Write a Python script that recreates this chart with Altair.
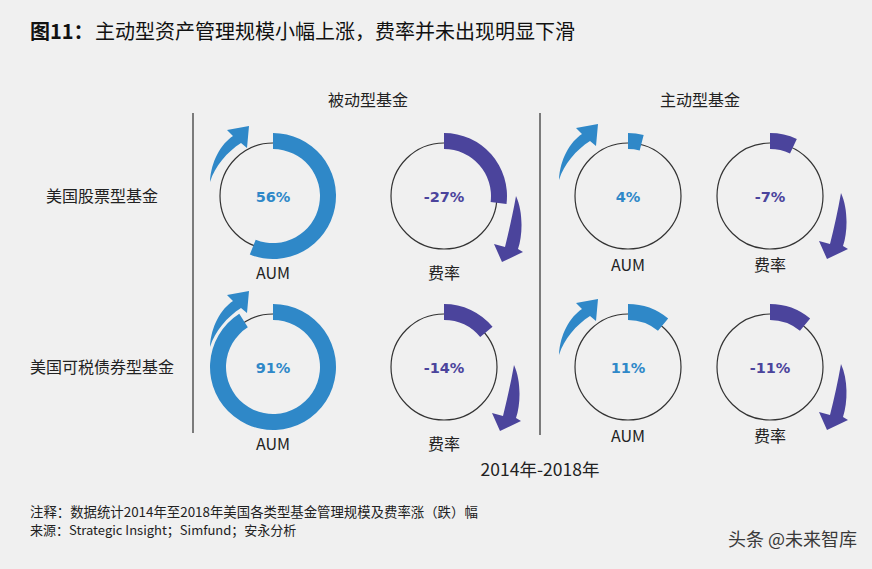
import math
import altair as alt
import pandas as pd

# ---------------- data ----------------
fund_types = ["美国股票型基金", "美国可税债券型基金"]
fund_groups = ["被动型基金", "主动型基金"]
metrics = ["AUM", "费率"]
passive_aum_change = [56, 91]
passive_fee_change = [-27, -14]
active_aum_change = [4, 11]
active_fee_change = [-7, -11]
period_label = "2014年-2018年"
title_bold = "图11："
title_text = "主动型资产管理规模小幅上涨，费率并未出现明显下滑"
note_text = "注释：数据统计2014年至2018年美国各类型基金管理规模及费率涨（跌）幅"
source_text = "来源：Strategic Insight；Simfund；安永分析"
watermark = "头条 @未来智库"

# ---------------- layout / style ----------------
W, H = 872, 569
BG = "#f0f0f0"
CJK = "Noto Sans CJK SC"
AUM_COLOR = "#2f88c8"
FEE_COLOR = "#4b449c"
col_x = {("被动型基金", "AUM"): 273, ("被动型基金", "费率"): 444,
         ("主动型基金", "AUM"): 628, ("主动型基金", "费率"): 770}
row_y = {"美国股票型基金": 196, "美国可税债券型基金": 367}
label_dy = {"被动型基金": 78, "主动型基金": 70}
arrow_shift = {
    ("被动型基金", "AUM", "美国股票型基金"): (0, 0),
    ("被动型基金", "AUM", "美国可税债券型基金"): (0, -6),
    ("主动型基金", "AUM", "美国股票型基金"): (-6, -2),
    ("主动型基金", "AUM", "美国可税债券型基金"): (-6, 2),
    ("被动型基金", "费率", "美国股票型基金"): (0, 0),
    ("被动型基金", "费率", "美国可税债券型基金"): (-2, -2),
    ("主动型基金", "费率", "美国股票型基金"): (-1, -3),
    ("主动型基金", "费率", "美国可税债券型基金"): (-1, -3),
}
col_header_x = {"被动型基金": 368, "主动型基金": 700}
row_label_x = 102
RING_R = 53
ARC_IN, ARC_OUT = 47, 63

# arrow outlines in pixel offsets (point size 4 -> unit scale)
AUM_ARROW = ("M -63 -14 C -62 -35 -52 -52 -40 -60 L -46 -66 L -24 -70 "
             "L -26 -48 L -32 -53 C -46 -44 -58 -30 -63 -14 Z")
FEE_ARROW = ("M 72 0 C 79 15 79 38 74 53 L 79 56 L 58 66 L 50 48 "
             "L 61 51 C 65 35 69 17 72 0 Z")

values = {("被动型基金", "AUM"): passive_aum_change,
          ("被动型基金", "费率"): passive_fee_change,
          ("主动型基金", "AUM"): active_aum_change,
          ("主动型基金", "费率"): active_fee_change}

rows = []
for grp in fund_groups:
    for met in metrics:
        for i, ft in enumerate(fund_types):
            v = values[(grp, met)][i]
            sx, sy = arrow_shift[(grp, met, ft)]
            rows.append(dict(
                group=grp, metric=met, fund=ft, value=v, label=f"{v}%",
                cx=col_x[(grp, met)], cy=row_y[ft],
                ly=row_y[ft] + label_dy[grp],
                ax=col_x[(grp, met)] + sx, ay=row_y[ft] + sy,
                t0=0.0, t1=abs(v) / 100 * 2 * math.pi,
                color=AUM_COLOR if met == "AUM" else FEE_COLOR,
            ))
df = pd.DataFrame(rows)

X = lambda f: alt.X(f"{f}:Q", scale=None, axis=None)
Y = lambda f: alt.Y(f"{f}:Q", scale=None, axis=None)

base = alt.Chart(df)

circles = base.mark_point(shape="circle", size=(2 * RING_R) ** 2, filled=False,
                          stroke="#333333", strokeWidth=1.2, opacity=1).encode(
    x=X("cx"), y=Y("cy"))

arcs = base.mark_arc(innerRadius=ARC_IN, outerRadius=ARC_OUT).encode(
    x=X("cx"), y=Y("cy"),
    theta=alt.Theta("t0:Q", scale=None, stack=None),
    theta2=alt.Theta2("t1:Q"),
    color=alt.Color("color:N", scale=None))

aum_arrows = base.transform_filter(alt.datum.metric == "AUM").mark_point(
    shape=AUM_ARROW, size=4, filled=True, fill=AUM_COLOR, strokeWidth=0, opacity=1
).encode(x=X("ax"), y=Y("ay"))

fee_arrows = base.transform_filter(alt.datum.metric == "费率").mark_point(
    shape=FEE_ARROW, size=4, filled=True, fill=FEE_COLOR, strokeWidth=0, opacity=1
).encode(x=X("ax"), y=Y("ay"))

pct_text = base.mark_text(font="DejaVu Sans", fontWeight="bold", fontSize=14.5,
                          align="center", baseline="middle", dy=2).encode(
    x=X("cx"), y=Y("cy"), text="label:N", color=alt.Color("color:N", scale=None))

metric_text = base.mark_text(font=CJK, fontSize=16, color="#222222",
                             align="center", baseline="middle").encode(
    x=X("cx"), y=Y("ly"), text="metric:N")

headers = alt.Chart(pd.DataFrame({
    "t": fund_groups, "x": [col_header_x[g] for g in fund_groups], "y": [101, 101]
})).mark_text(font=CJK, fontSize=16, color="#222222", align="center",
              baseline="middle").encode(x=X("x"), y=Y("y"), text="t:N")

row_labels = alt.Chart(pd.DataFrame({
    "t": fund_types, "x": [row_label_x] * 2, "y": [row_y[f] + 1 for f in fund_types]
})).mark_text(font=CJK, fontSize=16, color="#222222", align="center",
              baseline="middle").encode(x=X("x"), y=Y("y"), text="t:N")

rules = alt.Chart(pd.DataFrame({
    "x": [193, 540], "y": [113, 113], "y2": [433, 435]
})).mark_rule(color="#555555", strokeWidth=1.5).encode(
    x=X("x"), y=Y("y"), y2=alt.Y2("y2:Q"))

def static_text(txt, x, y, **kw):
    return alt.Chart(pd.DataFrame({"t": [txt], "x": [x], "y": [y]})).mark_text(
        baseline="middle", **kw).encode(x=X("x"), y=Y("y"), text="t:N")

title1 = static_text(title_bold, 30, 33, font=CJK, fontSize=20, fontWeight="bold",
                     color="#111111", align="left")
title2 = static_text(title_text, 95, 33, font=CJK, fontSize=20, color="#111111",
                     align="left")
period = static_text(period_label, 540, 471, font=CJK, fontSize=17.5,
                     color="#222222", align="center")
note = static_text(note_text, 30, 513, font=CJK, fontSize=13.4, color="#222222",
                   align="left")
source = static_text(source_text, 30, 531, font=CJK, fontSize=13,
                     color="#222222", align="left")
wm = static_text(watermark, 857, 541, font=CJK, fontSize=18, color="#3a3a3a",
                 align="right")

chart = alt.layer(
    rules, circles, arcs, aum_arrows, fee_arrows, pct_text, metric_text,
    headers, row_labels, title1, title2, period, note, source, wm
).properties(
    width=W, height=H, background=BG, padding=0,
    autosize=alt.AutoSizeParams(type="none")
).configure_view(stroke=None)

chart.save("out.html", embed_options={"renderer": "svg", "actions": False})
